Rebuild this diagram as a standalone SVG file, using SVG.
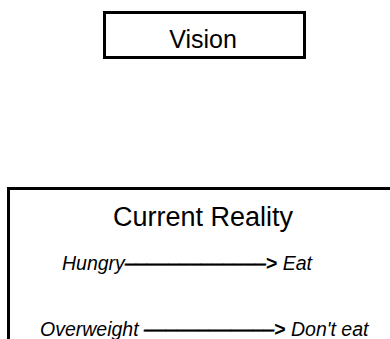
<svg xmlns="http://www.w3.org/2000/svg" width="390" height="339" viewBox="0 0 390 339">
<style>
.box{fill:#fff;stroke:#000;stroke-width:3}
.t{font-family:"Liberation Sans",Arial,sans-serif;fill:#000}
.title{font-size:25px;text-anchor:middle}
.big{font-size:27px;text-anchor:middle}
.it{font-size:19.5px;font-style:italic}
.dash{stroke:#000;stroke-width:0.6}
.ar{font-weight:bold;font-style:normal}
</style>
<rect width="390" height="339" fill="#fff"/>
<g id="vision">
<rect class="box" x="104.5" y="12.5" width="200" height="45"/>
<text class="t title" x="203" y="47.5">Vision</text>
</g>
<g id="current-reality">
<rect class="box" x="8.5" y="188.5" width="400" height="200"/>
<text class="t big" x="203" y="226">Current Reality</text>
</g>
<g id="connectors">
<text class="t it" x="62" y="270">Hungry<tspan class="dash">–––––––––––––</tspan><tspan class="ar">&gt;</tspan> Eat</text>
<text class="t it" x="40" y="336">Overweight <tspan class="dash">––––––––––––</tspan><tspan class="ar">&gt;</tspan> Don't eat</text>
</g>
</svg>
